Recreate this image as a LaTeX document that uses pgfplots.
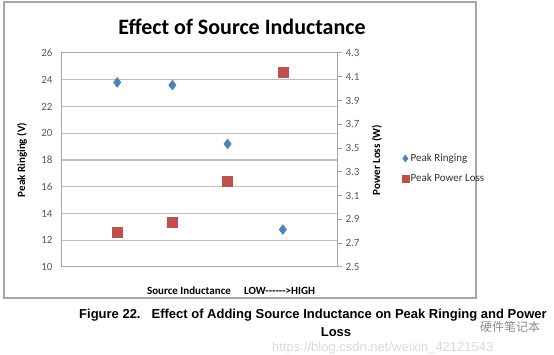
\documentclass[border=0pt]{standalone}
\usepackage{fontspec}
\setmainfont{Carlito}
\newfontfamily\arial{Liberation Sans}
\newfontfamily\cjk{Noto Sans CJK SC}
\usepackage{pgfplots}
\pgfplotsset{compat=1.18}
\definecolor{ser1}{HTML}{4F81BD}
\definecolor{ser2}{HTML}{C0504D}
\definecolor{tick}{HTML}{595959}
\definecolor{frame}{HTML}{A6A6A6}
\definecolor{gridc}{HTML}{BEBEBE}
\begin{document}
\begin{tikzpicture}[x=1pt,y=1pt]
\path[use as bounding box] (0,0) rectangle (554,355);
\draw[frame, line width=1.2pt] (4,57) rectangle (476,353);
\node[font=\fontsize{22}{26}\selectfont\bfseries] at (242,328) {Effect of Source Inductance};
\node[font=\fontsize{11}{13}\selectfont\bfseries] at (231,64) {Source Inductance\hspace{1.2em}LOW-{}-{}-{}-{}-{}-{}>HIGH};
\node[font=\arial\fontsize{13}{15}\selectfont\bfseries, anchor=west, inner sep=0pt] at (79,40) {Figure 22.\hspace{11pt}Effect of Adding Source Inductance on Peak Ringing and Power};
\node[font=\arial\fontsize{13}{15}\selectfont\bfseries] at (336,23) {Loss};
\node[font=\arial\fontsize{13}{15}\selectfont, text=black!15, anchor=west, inner sep=0pt] at (272,7) {https://blog.csdn.net/weixin\_42121543};
\node[font=\cjk\fontsize{12}{14}\selectfont, text=black!45, anchor=west, inner sep=0pt] at (480,28) {硬件笔记本};
\begin{axis}[at={(62pt,88pt)}, anchor=south west, scale only axis,
  width=276pt, height=214pt, xmin=0, xmax=5, ymin=10, ymax=26,
  ytick={10,12,...,26}, xtick=\empty,
  axis line style={draw=frame, line width=1pt},
  major tick length=0pt,
  tick label style={font=\fontsize{11}{13}\selectfont, text=tick},
  yticklabel style={xshift=-6pt},
  /pgf/number format/assume math mode=true,
  ylabel={Peak Ringing (V)},
  ylabel style={font=\fontsize{11}{13}\selectfont\bfseries, at={(axis description cs:-0.145,0.5)}, anchor=center},
  clip=false]
\addplot[gridc, line width=1.2pt, forget plot] coordinates {(0,12) (5,12)};
\addplot[gridc, line width=1.2pt, forget plot] coordinates {(0,14) (5,14)};
\addplot[gridc, line width=1.2pt, forget plot] coordinates {(0,16) (5,16)};
\addplot[gridc, line width=1.2pt, forget plot] coordinates {(0,18) (5,18)};
\addplot[gridc, line width=1.2pt, forget plot] coordinates {(0,20) (5,20)};
\addplot[gridc, line width=1.2pt, forget plot] coordinates {(0,22) (5,22)};
\addplot[gridc, line width=1.2pt, forget plot] coordinates {(0,24) (5,24)};
\addplot[only marks, mark=diamond*, mark size=5pt, color=ser1] coordinates {(1,23.8) (2,23.6) (3,19.2) (4,12.8)};
\end{axis}
\begin{axis}[at={(62pt,88pt)}, anchor=south west, scale only axis,
  width=276pt, height=214pt, xmin=0, xmax=5, ymin=2.5, ymax=4.3,
  axis x line=none, axis y line*=right,
  ytick={2.5,2.7,2.9,3.1,3.3,3.5,3.7,3.9,4.1,4.3},
  yticklabel style={/pgf/number format/fixed, /pgf/number format/precision=1, /pgf/number format/fixed zerofill},
  axis line style={draw=frame, line width=1pt},
  tick style={draw=frame, line width=1pt},
  tick align=outside, major tick length=4pt,
  tick label style={font=\fontsize{11}{13}\selectfont, text=tick},
  /pgf/number format/assume math mode=true,
  ylabel={Power Loss (W)},
  ylabel style={font=\fontsize{11}{13}\selectfont\bfseries, at={(axis description cs:1.141,0.5)}, anchor=center},
  legend style={at={(axis description cs:1.22,0.46)}, anchor=west, draw=none, fill=none,
    font=\fontsize{11}{13}\selectfont, row sep=7pt, text=black!80},
  legend cell align=left,
  clip=false]
\addlegendimage{only marks, mark=diamond*, mark size=3.6pt, color=ser1}
\addlegendentry{Peak Ringing}
\addlegendimage{only marks, mark=square*, mark size=3.4pt, color=ser2}
\addlegendentry{Peak Power Loss}
\addplot[only marks, mark=square*, mark size=5pt, color=ser2, forget plot] coordinates {(1,2.79) (2,2.88) (3,3.22) (4,4.14)};
\end{axis}
\end{tikzpicture}
\end{document}
